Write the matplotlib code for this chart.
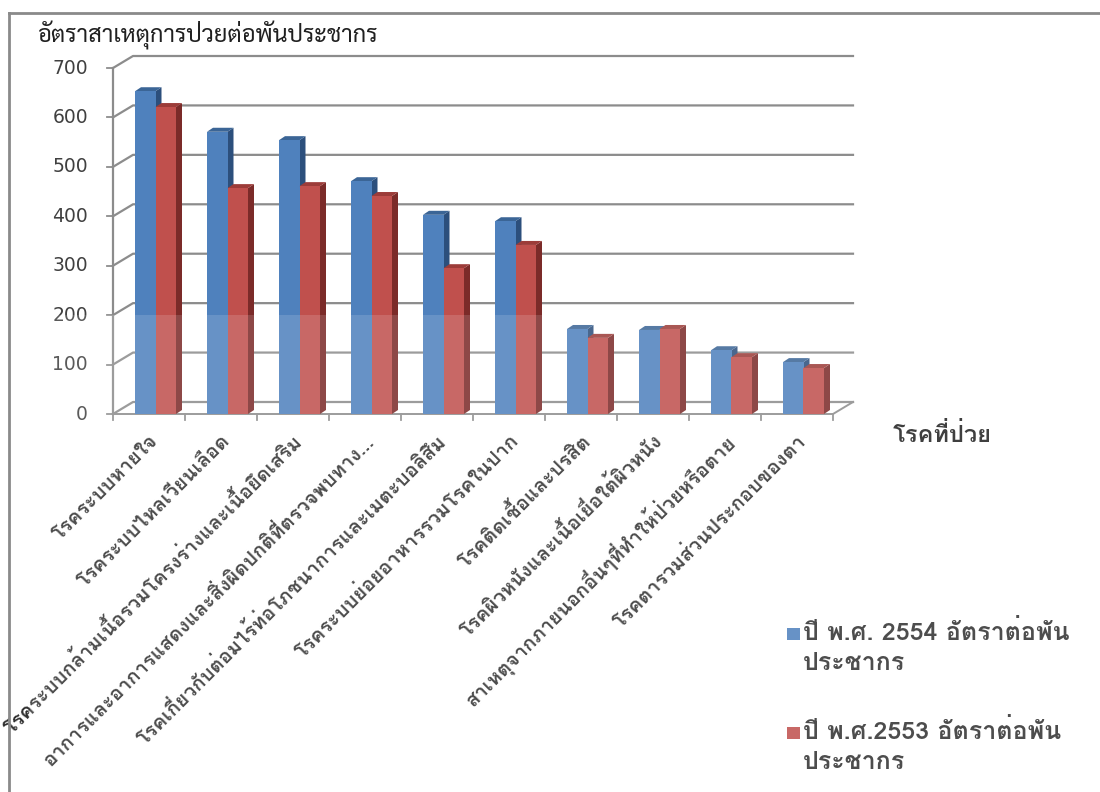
import matplotlib
matplotlib.use("Agg")
import matplotlib.pyplot as plt
from matplotlib import font_manager
from matplotlib.ft2font import FT2Font
from matplotlib.patches import Polygon, Rectangle

# ---- data ----
diseases = [
    "โรคระบบหายใจ",
    "โรคระบบไหลเวียนเลือด",
    "โรคระบบกล้ามเนื้อรวมโครงร่างและเนื้อยึดเสริม",
    "อาการและอาการแสดงและสิ่งผิดปกติที่ตรวจพบทาง...",
    "โรคเกี่ยวกับต่อมไร้ท่อโภชนาการและเมตะบอลิสึม",
    "โรคระบบย่อยอาหารรวมโรคในปาก",
    "โรคติดเชื้อและปรสิต",
    "โรคผิวหนังและเนื้อเยื่อใต้ผิวหนัง",
    "สาเหตุจากภายนอกอื่นๆที่ทำให้ป่วยหรือตาย",
    "โรคตารวมส่วนประกอบของตา",
]
rate_2554 = [653, 571, 554, 471, 403, 390, 172, 170, 129, 105]
rate_2553 = [621, 457, 461, 441, 295, 342, 154, 172, 115, 93]
series_labels = ["ปี พ.ศ. 2554 อัตราต่อพัน\nประชากร", "ปี พ.ศ.2553 อัตราต่อพัน\nประชากร"]
y_ticks = [0, 100, 200, 300, 400, 500, 600, 700]
y_title = "อัตราสาเหตุการป่วยต่อพันประชากร"
x_title = "โรคที่ป่วย"


def thai_families():
    fams = []
    for f in font_manager.fontManager.ttflist:
        try:
            cmap = FT2Font(f.fname).get_charmap()
        except Exception:
            continue
        if 0x0E01 in cmap and f.name not in fams:
            fams.append(f.name)
    return fams


def pick(prefs, avail):
    for p in prefs:
        if p in avail:
            return [p, 'DejaVu Sans']
    return avail[:1] + ['DejaVu Sans']


fams = thai_families()
label_font = pick(['Tahoma', 'Waree', 'Loma', 'Noto Sans Thai Looped'], fams)
title_font = pick(['Sarabun', 'Noto Sans Thai Looped', 'Loma'], fams)
plt.rcParams['font.family'] = label_font

W, H = 1100, 792
fig = plt.figure(figsize=(W / 100, H / 100), dpi=100)

# front plane: category 0..10 -> px 113..833, value 0..700 -> px 414..68
x0, x1 = 113, 833
y0, y1 = 414, 68
ax = fig.add_axes([x0 / W, 1 - y0 / H, (x1 - x0) / W, (y0 - y1) / H])
ax.set_xlim(0, 10)
ax.set_ylim(0, 700)
ax.axis('off')

px_x = (x1 - x0) / 10.0      # px per category
px_y = (y0 - y1) / 700.0     # px per unit
wall_dx, wall_dy = 20 / px_x, 12 / px_y   # depth of the back wall
bar_dx, bar_dy = 6 / px_x, 4 / px_y       # depth of each bar

grid_c = '#8c8c8c'
for v in y_ticks:
    # side wall diagonal + back wall gridline
    ax.plot([0, wall_dx, 10 + wall_dx], [v, v + wall_dy, v + wall_dy],
            color=grid_c, lw=1.6, clip_on=False, zorder=1)
    ax.plot([-6 / px_x, 0], [v, v], color=grid_c, lw=1.3, clip_on=False)
    ax.text(-25 / px_x, v, str(v), ha='right', va='center', fontsize=13.5,
            color='#404040', family='DejaVu Sans')
ax.plot([0, 0], [0, 700], color=grid_c, lw=1.6, clip_on=False)
# floor
ax.plot([0, 10, 10 + wall_dx], [0, 0, wall_dy], color=grid_c, lw=1.4, clip_on=False)
for k in range(11):
    ax.plot([k, k], [0, -6 / px_y], color=grid_c, lw=1.3, clip_on=False)

bw = 20.5 / px_x
off = 22 / px_x
faces = [('#4f81bd', '#2c4f7c', '#3b6596'), ('#c0504d', '#7b2b29', '#9c3c39')]
for s, vals in enumerate([rate_2554, rate_2553]):
    front, side, top = faces[s]
    for i, v in enumerate(vals):
        xl = i + off + s * bw
        xr = xl + bw
        ax.add_patch(Polygon([[xr, 0], [xr + bar_dx, bar_dy], [xr + bar_dx, v + bar_dy], [xr, v]],
                             closed=True, fc=side, ec='none', zorder=3 + 2 * s))
        ax.add_patch(Polygon([[xl, v], [xr, v], [xr + bar_dx, v + bar_dy], [xl + bar_dx, v + bar_dy]],
                             closed=True, fc=top, ec='none', zorder=3 + 2 * s))
    ax.bar([i + off + s * bw for i in range(10)], vals, width=bw, align='edge',
           color=front, zorder=4 + 2 * s, label=series_labels[s])

for i, name in enumerate(diseases):
    ax.text(i + off + bw, -24 / px_y, name, rotation=45, rotation_mode='anchor',
            ha='right', va='center', fontsize=14.5, color='#303030', fontweight='bold')

fig.text(37 / W, 1 - 35 / H, y_title, ha='left', va='center', fontsize=17, color='#202020',
         family=title_font)
fig.text(893 / W, 1 - 435 / H, x_title, ha='left', va='center', fontsize=17,
         color='#202020', fontweight='bold')

# legend
for s, lab in enumerate(series_labels):
    ly = 634 + s * 99
    fig.patches.append(Rectangle((787 / W, 1 - (ly + 6) / H), 13 / W, 12 / H,
                                 transform=fig.transFigure, fc=faces[s][0], ec='none'))
    fig.text(803 / W, 1 - (ly - 14) / H, lab, ha='left', va='top', fontsize=18,
             color='#303030', fontweight='bold', linespacing=1.4)

# faint white wash over the lower half
fig.patches.append(Rectangle((30 / W, 0), 1050 / W, 1 - 315 / H, transform=fig.transFigure,
                             fc='white', alpha=0.14, ec='none', zorder=20))

# outer frame
fig.add_artist(plt.Line2D([9 / W, 1], [1 - 13 / H, 1 - 13 / H], color='#8a8a8a', lw=2))
fig.add_artist(plt.Line2D([9 / W, 9 / W], [0, 1 - 13 / H], color='#8a8a8a', lw=2))

fig.savefig('out.png', dpi=100)
